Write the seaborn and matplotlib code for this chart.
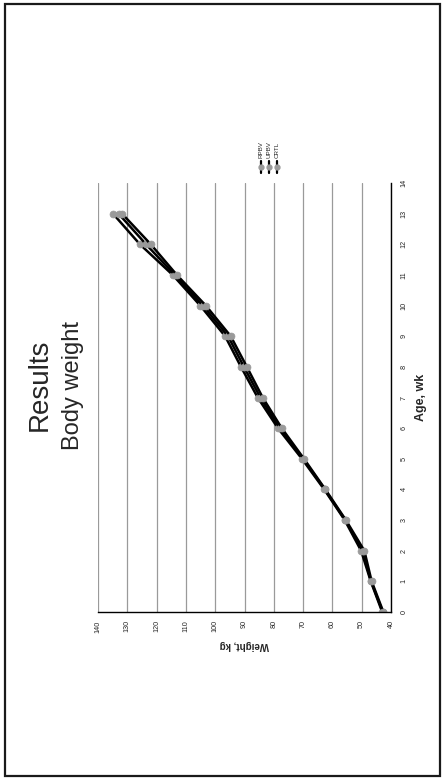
import matplotlib
matplotlib.use("Agg")
import matplotlib.pyplot as plt
from matplotlib.lines import Line2D
from matplotlib.patches import Rectangle
import seaborn as sns
import pandas as pd

# ---- data ----
age = [0, 1, 2, 3, 4, 5, 6, 7, 8, 9, 10, 11, 12, 13]
rpbv = [43.0, 46.9, 50.2, 55.8, 62.8, 70.4, 78.6, 85.5, 91.2, 96.6, 105.1, 114.5, 125.7, 134.9]
upbv = [42.8, 46.8, 49.7, 55.6, 62.6, 70.0, 78.0, 84.6, 90.2, 95.6, 104.2, 113.8, 123.6, 133.0]
crtl = [42.6, 46.6, 49.1, 55.4, 62.4, 69.7, 77.3, 83.8, 89.2, 94.7, 103.2, 113.1, 122.0, 131.8]
groups = ["RPBV", "UPBV", "CRTL"]
weight_ticks = [40, 50, 60, 70, 80, 90, 100, 110, 120, 130, 140]
age_ticks = list(range(0, 15))
title1 = "Results"
title2 = "Body weight"
xlab = "Weight, kg"
ylab = "Age, wk"

df = pd.concat([
    pd.DataFrame({"age": age, "weight": vals, "group": g})
    for g, vals in zip(groups, [rpbv, upbv, crtl])
])

sns.set_style("white")
plt.rcParams["font.family"] = ["Liberation Sans", "DejaVu Sans"]

W, H = 442, 780
fig = plt.figure(figsize=(W / 100, H / 100), dpi=100)
ax = fig.add_axes([98 / W, 1 - 612 / H, (391 - 98) / W, (612 - 183) / H])

sns.lineplot(data=df, x="weight", y="age", hue="group", hue_order=groups,
             palette=["black"] * 3, sort=False, estimator=None, legend=False,
             marker="o", markersize=5, markerfacecolor="#9a9a9a",
             markeredgecolor="#9a9a9a", markeredgewidth=0.5,
             linewidth=1.8, ax=ax)

ax.set_xlim(140, 40)
ax.set_ylim(0, 14)
ax.set_xticks(weight_ticks)
ax.set_yticks(age_ticks)
ax.set_xticklabels([str(t) for t in weight_ticks], rotation=90, fontsize=5.2)
ax.set_yticklabels([str(t) for t in age_ticks], rotation=90, fontsize=5.2, va="center")
ax.yaxis.tick_right()
ax.yaxis.set_label_position("right")
ax.tick_params(axis="both", length=0)
ax.tick_params(axis="x", pad=6)
ax.tick_params(axis="y", pad=7)
ax.grid(axis="x", color="#9a9a9a", linewidth=0.9)
ax.grid(axis="y", visible=False)
for s in ["top", "left"]:
    ax.spines[s].set_visible(False)
for s in ["bottom", "right"]:
    ax.spines[s].set_color("black")
    ax.spines[s].set_linewidth(1.0)

ax.set_xlabel(xlab, fontsize=7, fontweight="bold", rotation=180, labelpad=5)
ax.set_ylabel(ylab, fontsize=9, fontweight="bold", rotation=90, labelpad=5)

# title (rotated, as in the reference)
fig.text(53 / W, 1 - 385 / H, title1, rotation=90, ha="right", va="center", fontsize=20)
fig.text(84 / W, 1 - 385 / H, title2, rotation=90, ha="right", va="center", fontsize=17)

# legend (rotated entries)
for i, g in enumerate(groups):
    xc = (261 + 8 * i) / W
    fig.add_artist(Line2D([xc, xc], [1 - 173 / H, 1 - 161 / H], color="black",
                          linewidth=1.6, transform=fig.transFigure))
    fig.add_artist(Line2D([xc], [1 - 167 / H], color="black", marker="o",
                          markersize=3.5, markerfacecolor="#9a9a9a",
                          markeredgecolor="#9a9a9a", linestyle="none",
                          transform=fig.transFigure))
    fig.text(xc, 1 - 158 / H, g, rotation=90, ha="center", va="bottom", fontsize=4.5)

# outer frame
fig.add_artist(Rectangle((5 / W, 4 / H), (440 - 5) / W, (776 - 4) / H, fill=False,
                         edgecolor="#1a1a1a", linewidth=1.6, transform=fig.transFigure))

fig.savefig("out.png", dpi=100)
